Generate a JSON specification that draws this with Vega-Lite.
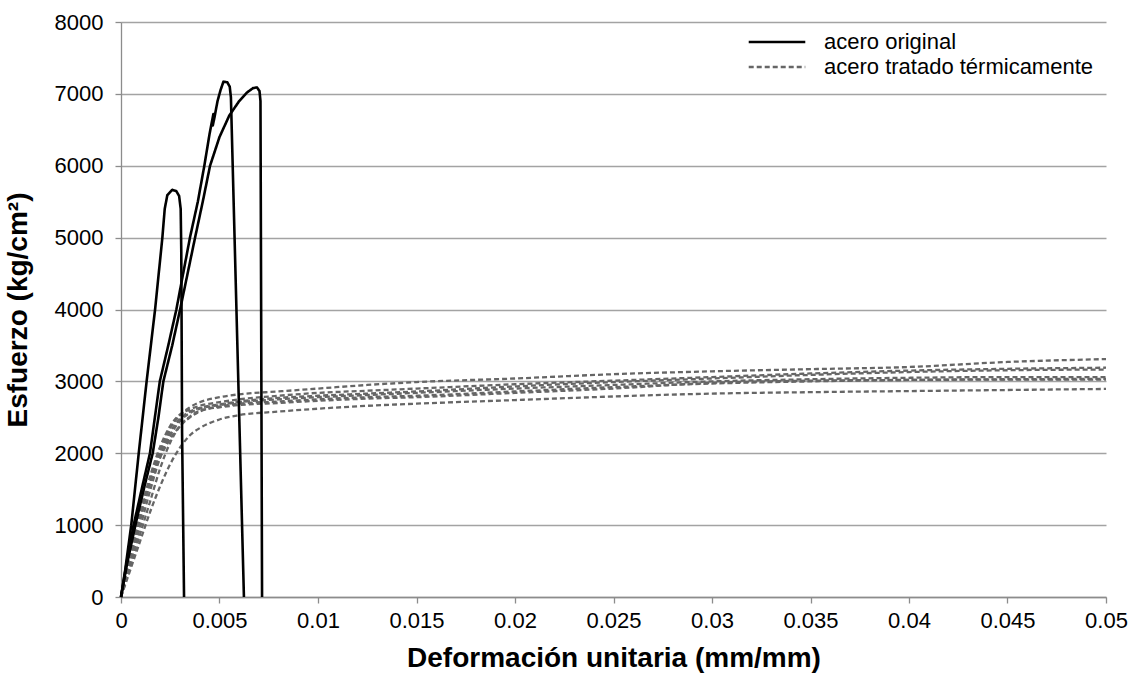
{
  "$schema": "https://vega.github.io/schema/vega-lite/v6.json",
  "width": 985,
  "height": 575,
  "autosize": {"type": "none"},
  "padding": {"left": 121, "top": 22, "right": 29, "bottom": 80},
  "background": "white",
  "config": {"view": {"stroke": null}, "font": "Liberation Sans"},
  "data": {"values": [
    {"p":"A","t":"acero original","i":0,"e":0,"s":0},
    {"p":"A","t":"acero original","i":1,"e":0.0002,"s":350},
    {"p":"A","t":"acero original","i":2,"e":0.00052,"s":1000},
    {"p":"A","t":"acero original","i":3,"e":0.0009,"s":2000},
    {"p":"A","t":"acero original","i":4,"e":0.0013,"s":3000},
    {"p":"A","t":"acero original","i":5,"e":0.00173,"s":4000},
    {"p":"A","t":"acero original","i":6,"e":0.0021,"s":5000},
    {"p":"A","t":"acero original","i":7,"e":0.00222,"s":5400},
    {"p":"A","t":"acero original","i":8,"e":0.00235,"s":5590},
    {"p":"A","t":"acero original","i":9,"e":0.0026,"s":5665},
    {"p":"A","t":"acero original","i":10,"e":0.0028,"s":5650},
    {"p":"A","t":"acero original","i":11,"e":0.00295,"s":5580},
    {"p":"A","t":"acero original","i":12,"e":0.00303,"s":5400},
    {"p":"A","t":"acero original","i":13,"e":0.00306,"s":4800},
    {"p":"A","t":"acero original","i":14,"e":0.0031,"s":2300},
    {"p":"A","t":"acero original","i":15,"e":0.0032,"s":0},
    {"p":"B","t":"acero original","i":0,"e":0,"s":0},
    {"p":"B","t":"acero original","i":1,"e":0.0003,"s":500},
    {"p":"B","t":"acero original","i":2,"e":0.00064,"s":1000},
    {"p":"B","t":"acero original","i":3,"e":0.00105,"s":1500},
    {"p":"B","t":"acero original","i":4,"e":0.00147,"s":2000},
    {"p":"B","t":"acero original","i":5,"e":0.00172,"s":2500},
    {"p":"B","t":"acero original","i":6,"e":0.00197,"s":3000},
    {"p":"B","t":"acero original","i":7,"e":0.0024,"s":3500},
    {"p":"B","t":"acero original","i":8,"e":0.00281,"s":4000},
    {"p":"B","t":"acero original","i":9,"e":0.0035,"s":5000},
    {"p":"B","t":"acero original","i":10,"e":0.0039,"s":5500},
    {"p":"B","t":"acero original","i":11,"e":0.00423,"s":6000},
    {"p":"B","t":"acero original","i":12,"e":0.0045,"s":6450},
    {"p":"B","t":"acero original","i":13,"e":0.00462,"s":6620},
    {"p":"B","t":"acero original","i":14,"e":0.00469,"s":6720},
    {"p":"B","t":"acero original","i":15,"e":0.00466,"s":6560},
    {"p":"B","t":"acero original","i":16,"e":0.00475,"s":6680},
    {"p":"B","t":"acero original","i":17,"e":0.0049,"s":6900},
    {"p":"B","t":"acero original","i":18,"e":0.00505,"s":7050},
    {"p":"B","t":"acero original","i":19,"e":0.0052,"s":7170},
    {"p":"B","t":"acero original","i":20,"e":0.0054,"s":7160},
    {"p":"B","t":"acero original","i":21,"e":0.00552,"s":7100},
    {"p":"B","t":"acero original","i":22,"e":0.00558,"s":6950},
    {"p":"B","t":"acero original","i":23,"e":0.00624,"s":0},
    {"p":"C","t":"acero original","i":0,"e":0,"s":0},
    {"p":"C","t":"acero original","i":1,"e":0.0003,"s":450},
    {"p":"C","t":"acero original","i":2,"e":0.00073,"s":1000},
    {"p":"C","t":"acero original","i":3,"e":0.0012,"s":1550},
    {"p":"C","t":"acero original","i":4,"e":0.00161,"s":2000},
    {"p":"C","t":"acero original","i":5,"e":0.0019,"s":2500},
    {"p":"C","t":"acero original","i":6,"e":0.00215,"s":3000},
    {"p":"C","t":"acero original","i":7,"e":0.0026,"s":3500},
    {"p":"C","t":"acero original","i":8,"e":0.003,"s":4000},
    {"p":"C","t":"acero original","i":9,"e":0.00338,"s":4500},
    {"p":"C","t":"acero original","i":10,"e":0.00376,"s":5000},
    {"p":"C","t":"acero original","i":11,"e":0.00415,"s":5500},
    {"p":"C","t":"acero original","i":12,"e":0.00452,"s":6000},
    {"p":"C","t":"acero original","i":13,"e":0.005,"s":6400},
    {"p":"C","t":"acero original","i":14,"e":0.0055,"s":6700},
    {"p":"C","t":"acero original","i":15,"e":0.006,"s":6900},
    {"p":"C","t":"acero original","i":16,"e":0.0064,"s":7020},
    {"p":"C","t":"acero original","i":17,"e":0.0067,"s":7080},
    {"p":"C","t":"acero original","i":18,"e":0.0069,"s":7090},
    {"p":"C","t":"acero original","i":19,"e":0.00703,"s":7040},
    {"p":"C","t":"acero original","i":20,"e":0.00708,"s":6900},
    {"p":"C","t":"acero original","i":21,"e":0.00716,"s":0},

    {"p":"D1","t":"acero tratado térmicamente","i":0,"e":0,"s":0},
    {"p":"D1","t":"acero tratado térmicamente","i":1,"e":0.0005,"s":600},
    {"p":"D1","t":"acero tratado térmicamente","i":2,"e":0.001,"s":1150},
    {"p":"D1","t":"acero tratado térmicamente","i":3,"e":0.0015,"s":1650},
    {"p":"D1","t":"acero tratado térmicamente","i":4,"e":0.002,"s":2050},
    {"p":"D1","t":"acero tratado térmicamente","i":5,"e":0.0025,"s":2350},
    {"p":"D1","t":"acero tratado térmicamente","i":6,"e":0.003,"s":2530},
    {"p":"D1","t":"acero tratado térmicamente","i":7,"e":0.0035,"s":2640},
    {"p":"D1","t":"acero tratado térmicamente","i":8,"e":0.004,"s":2710},
    {"p":"D1","t":"acero tratado térmicamente","i":9,"e":0.005,"s":2780},
    {"p":"D1","t":"acero tratado térmicamente","i":10,"e":0.006,"s":2820},
    {"p":"D1","t":"acero tratado térmicamente","i":11,"e":0.008,"s":2860},
    {"p":"D1","t":"acero tratado térmicamente","i":12,"e":0.01,"s":2900},
    {"p":"D1","t":"acero tratado térmicamente","i":13,"e":0.0125,"s":2950},
    {"p":"D1","t":"acero tratado térmicamente","i":14,"e":0.015,"s":2990},
    {"p":"D1","t":"acero tratado térmicamente","i":15,"e":0.02,"s":3040},
    {"p":"D1","t":"acero tratado térmicamente","i":16,"e":0.025,"s":3100},
    {"p":"D1","t":"acero tratado térmicamente","i":17,"e":0.03,"s":3140},
    {"p":"D1","t":"acero tratado térmicamente","i":18,"e":0.035,"s":3170},
    {"p":"D1","t":"acero tratado térmicamente","i":19,"e":0.04,"s":3200},
    {"p":"D1","t":"acero tratado térmicamente","i":20,"e":0.045,"s":3270},
    {"p":"D1","t":"acero tratado térmicamente","i":21,"e":0.05,"s":3310},

    {"p":"D2","t":"acero tratado térmicamente","i":0,"e":0,"s":0},
    {"p":"D2","t":"acero tratado térmicamente","i":1,"e":0.0005,"s":650},
    {"p":"D2","t":"acero tratado térmicamente","i":2,"e":0.001,"s":1200},
    {"p":"D2","t":"acero tratado térmicamente","i":3,"e":0.0015,"s":1700},
    {"p":"D2","t":"acero tratado térmicamente","i":4,"e":0.002,"s":2100},
    {"p":"D2","t":"acero tratado térmicamente","i":5,"e":0.0025,"s":2380},
    {"p":"D2","t":"acero tratado térmicamente","i":6,"e":0.003,"s":2540},
    {"p":"D2","t":"acero tratado térmicamente","i":7,"e":0.0035,"s":2610},
    {"p":"D2","t":"acero tratado térmicamente","i":8,"e":0.004,"s":2660},
    {"p":"D2","t":"acero tratado térmicamente","i":9,"e":0.005,"s":2710},
    {"p":"D2","t":"acero tratado térmicamente","i":10,"e":0.006,"s":2750},
    {"p":"D2","t":"acero tratado térmicamente","i":11,"e":0.008,"s":2800},
    {"p":"D2","t":"acero tratado térmicamente","i":12,"e":0.01,"s":2840},
    {"p":"D2","t":"acero tratado térmicamente","i":13,"e":0.0125,"s":2870},
    {"p":"D2","t":"acero tratado térmicamente","i":14,"e":0.015,"s":2900},
    {"p":"D2","t":"acero tratado térmicamente","i":15,"e":0.02,"s":2960},
    {"p":"D2","t":"acero tratado térmicamente","i":16,"e":0.025,"s":3010},
    {"p":"D2","t":"acero tratado térmicamente","i":17,"e":0.03,"s":3060},
    {"p":"D2","t":"acero tratado térmicamente","i":18,"e":0.035,"s":3110},
    {"p":"D2","t":"acero tratado térmicamente","i":19,"e":0.04,"s":3150},
    {"p":"D2","t":"acero tratado térmicamente","i":20,"e":0.045,"s":3175},
    {"p":"D2","t":"acero tratado térmicamente","i":21,"e":0.05,"s":3190},

    {"p":"D3","t":"acero tratado térmicamente","i":0,"e":0,"s":0},
    {"p":"D3","t":"acero tratado térmicamente","i":1,"e":0.0005,"s":550},
    {"p":"D3","t":"acero tratado térmicamente","i":2,"e":0.001,"s":1100},
    {"p":"D3","t":"acero tratado térmicamente","i":3,"e":0.0015,"s":1600},
    {"p":"D3","t":"acero tratado térmicamente","i":4,"e":0.002,"s":2000},
    {"p":"D3","t":"acero tratado térmicamente","i":5,"e":0.0025,"s":2300},
    {"p":"D3","t":"acero tratado térmicamente","i":6,"e":0.003,"s":2480},
    {"p":"D3","t":"acero tratado térmicamente","i":7,"e":0.0035,"s":2580},
    {"p":"D3","t":"acero tratado térmicamente","i":8,"e":0.004,"s":2630},
    {"p":"D3","t":"acero tratado térmicamente","i":9,"e":0.005,"s":2680},
    {"p":"D3","t":"acero tratado térmicamente","i":10,"e":0.006,"s":2720},
    {"p":"D3","t":"acero tratado térmicamente","i":11,"e":0.008,"s":2770},
    {"p":"D3","t":"acero tratado térmicamente","i":12,"e":0.01,"s":2800},
    {"p":"D3","t":"acero tratado térmicamente","i":13,"e":0.0125,"s":2830},
    {"p":"D3","t":"acero tratado térmicamente","i":14,"e":0.015,"s":2860},
    {"p":"D3","t":"acero tratado térmicamente","i":15,"e":0.02,"s":2930},
    {"p":"D3","t":"acero tratado térmicamente","i":16,"e":0.025,"s":2990},
    {"p":"D3","t":"acero tratado térmicamente","i":17,"e":0.03,"s":3040},
    {"p":"D3","t":"acero tratado térmicamente","i":18,"e":0.035,"s":3090},
    {"p":"D3","t":"acero tratado térmicamente","i":19,"e":0.04,"s":3130},
    {"p":"D3","t":"acero tratado térmicamente","i":20,"e":0.045,"s":3155},
    {"p":"D3","t":"acero tratado térmicamente","i":21,"e":0.05,"s":3165},

    {"p":"D4","t":"acero tratado térmicamente","i":0,"e":0,"s":0},
    {"p":"D4","t":"acero tratado térmicamente","i":1,"e":0.0005,"s":500},
    {"p":"D4","t":"acero tratado térmicamente","i":2,"e":0.001,"s":1000},
    {"p":"D4","t":"acero tratado térmicamente","i":3,"e":0.0015,"s":1500},
    {"p":"D4","t":"acero tratado térmicamente","i":4,"e":0.002,"s":1950},
    {"p":"D4","t":"acero tratado térmicamente","i":5,"e":0.0025,"s":2250},
    {"p":"D4","t":"acero tratado térmicamente","i":6,"e":0.003,"s":2450},
    {"p":"D4","t":"acero tratado térmicamente","i":7,"e":0.0035,"s":2560},
    {"p":"D4","t":"acero tratado térmicamente","i":8,"e":0.004,"s":2620},
    {"p":"D4","t":"acero tratado térmicamente","i":9,"e":0.005,"s":2670},
    {"p":"D4","t":"acero tratado térmicamente","i":10,"e":0.006,"s":2710},
    {"p":"D4","t":"acero tratado térmicamente","i":11,"e":0.008,"s":2750},
    {"p":"D4","t":"acero tratado térmicamente","i":12,"e":0.01,"s":2780},
    {"p":"D4","t":"acero tratado térmicamente","i":13,"e":0.0125,"s":2810},
    {"p":"D4","t":"acero tratado térmicamente","i":14,"e":0.015,"s":2840},
    {"p":"D4","t":"acero tratado térmicamente","i":15,"e":0.02,"s":2900},
    {"p":"D4","t":"acero tratado térmicamente","i":16,"e":0.025,"s":2950},
    {"p":"D4","t":"acero tratado térmicamente","i":17,"e":0.03,"s":3000},
    {"p":"D4","t":"acero tratado térmicamente","i":18,"e":0.035,"s":3030},
    {"p":"D4","t":"acero tratado térmicamente","i":19,"e":0.04,"s":3050},
    {"p":"D4","t":"acero tratado térmicamente","i":20,"e":0.045,"s":3060},
    {"p":"D4","t":"acero tratado térmicamente","i":21,"e":0.05,"s":3060},

    {"p":"D5","t":"acero tratado térmicamente","i":0,"e":0,"s":0},
    {"p":"D5","t":"acero tratado térmicamente","i":1,"e":0.0005,"s":600},
    {"p":"D5","t":"acero tratado térmicamente","i":2,"e":0.001,"s":1150},
    {"p":"D5","t":"acero tratado térmicamente","i":3,"e":0.0015,"s":1600},
    {"p":"D5","t":"acero tratado térmicamente","i":4,"e":0.002,"s":1950},
    {"p":"D5","t":"acero tratado térmicamente","i":5,"e":0.0025,"s":2200},
    {"p":"D5","t":"acero tratado térmicamente","i":6,"e":0.003,"s":2380},
    {"p":"D5","t":"acero tratado térmicamente","i":7,"e":0.0035,"s":2500},
    {"p":"D5","t":"acero tratado térmicamente","i":8,"e":0.004,"s":2580},
    {"p":"D5","t":"acero tratado térmicamente","i":9,"e":0.005,"s":2650},
    {"p":"D5","t":"acero tratado térmicamente","i":10,"e":0.006,"s":2690},
    {"p":"D5","t":"acero tratado térmicamente","i":11,"e":0.008,"s":2720},
    {"p":"D5","t":"acero tratado térmicamente","i":12,"e":0.01,"s":2750},
    {"p":"D5","t":"acero tratado térmicamente","i":13,"e":0.0125,"s":2780},
    {"p":"D5","t":"acero tratado térmicamente","i":14,"e":0.015,"s":2800},
    {"p":"D5","t":"acero tratado térmicamente","i":15,"e":0.02,"s":2860},
    {"p":"D5","t":"acero tratado térmicamente","i":16,"e":0.025,"s":2920},
    {"p":"D5","t":"acero tratado térmicamente","i":17,"e":0.03,"s":2970},
    {"p":"D5","t":"acero tratado térmicamente","i":18,"e":0.035,"s":3000},
    {"p":"D5","t":"acero tratado térmicamente","i":19,"e":0.04,"s":3020},
    {"p":"D5","t":"acero tratado térmicamente","i":20,"e":0.045,"s":3030},
    {"p":"D5","t":"acero tratado térmicamente","i":21,"e":0.05,"s":3035},

    {"p":"D6","t":"acero tratado térmicamente","i":0,"e":0,"s":0},
    {"p":"D6","t":"acero tratado térmicamente","i":1,"e":0.0005,"s":450},
    {"p":"D6","t":"acero tratado térmicamente","i":2,"e":0.001,"s":900},
    {"p":"D6","t":"acero tratado térmicamente","i":3,"e":0.0015,"s":1350},
    {"p":"D6","t":"acero tratado térmicamente","i":4,"e":0.002,"s":1800},
    {"p":"D6","t":"acero tratado térmicamente","i":5,"e":0.0025,"s":2150},
    {"p":"D6","t":"acero tratado térmicamente","i":6,"e":0.003,"s":2380},
    {"p":"D6","t":"acero tratado térmicamente","i":7,"e":0.0035,"s":2510},
    {"p":"D6","t":"acero tratado térmicamente","i":8,"e":0.004,"s":2590},
    {"p":"D6","t":"acero tratado térmicamente","i":9,"e":0.005,"s":2640},
    {"p":"D6","t":"acero tratado térmicamente","i":10,"e":0.006,"s":2670},
    {"p":"D6","t":"acero tratado térmicamente","i":11,"e":0.008,"s":2700},
    {"p":"D6","t":"acero tratado térmicamente","i":12,"e":0.01,"s":2730},
    {"p":"D6","t":"acero tratado térmicamente","i":13,"e":0.0125,"s":2760},
    {"p":"D6","t":"acero tratado térmicamente","i":14,"e":0.015,"s":2780},
    {"p":"D6","t":"acero tratado térmicamente","i":15,"e":0.02,"s":2840},
    {"p":"D6","t":"acero tratado térmicamente","i":16,"e":0.025,"s":2900},
    {"p":"D6","t":"acero tratado térmicamente","i":17,"e":0.03,"s":2980},
    {"p":"D6","t":"acero tratado térmicamente","i":18,"e":0.035,"s":3010},
    {"p":"D6","t":"acero tratado térmicamente","i":19,"e":0.04,"s":3020},
    {"p":"D6","t":"acero tratado térmicamente","i":20,"e":0.045,"s":3025},
    {"p":"D6","t":"acero tratado térmicamente","i":21,"e":0.05,"s":3025},

    {"p":"D7","t":"acero tratado térmicamente","i":0,"e":0,"s":0},
    {"p":"D7","t":"acero tratado térmicamente","i":1,"e":0.0005,"s":400},
    {"p":"D7","t":"acero tratado térmicamente","i":2,"e":0.001,"s":800},
    {"p":"D7","t":"acero tratado térmicamente","i":3,"e":0.0015,"s":1200},
    {"p":"D7","t":"acero tratado térmicamente","i":4,"e":0.002,"s":1550},
    {"p":"D7","t":"acero tratado térmicamente","i":5,"e":0.0025,"s":1850},
    {"p":"D7","t":"acero tratado térmicamente","i":6,"e":0.003,"s":2080},
    {"p":"D7","t":"acero tratado térmicamente","i":7,"e":0.0035,"s":2250},
    {"p":"D7","t":"acero tratado térmicamente","i":8,"e":0.004,"s":2350},
    {"p":"D7","t":"acero tratado térmicamente","i":9,"e":0.005,"s":2470},
    {"p":"D7","t":"acero tratado térmicamente","i":10,"e":0.006,"s":2530},
    {"p":"D7","t":"acero tratado térmicamente","i":11,"e":0.008,"s":2580},
    {"p":"D7","t":"acero tratado térmicamente","i":12,"e":0.01,"s":2620},
    {"p":"D7","t":"acero tratado térmicamente","i":13,"e":0.0125,"s":2660},
    {"p":"D7","t":"acero tratado térmicamente","i":14,"e":0.015,"s":2690},
    {"p":"D7","t":"acero tratado térmicamente","i":15,"e":0.02,"s":2740},
    {"p":"D7","t":"acero tratado térmicamente","i":16,"e":0.025,"s":2790},
    {"p":"D7","t":"acero tratado térmicamente","i":17,"e":0.03,"s":2830},
    {"p":"D7","t":"acero tratado térmicamente","i":18,"e":0.035,"s":2850},
    {"p":"D7","t":"acero tratado térmicamente","i":19,"e":0.04,"s":2865},
    {"p":"D7","t":"acero tratado térmicamente","i":20,"e":0.045,"s":2880},
    {"p":"D7","t":"acero tratado térmicamente","i":21,"e":0.05,"s":2895}
  ]},
  "encoding": {
    "x": {
      "field": "e", "type": "quantitative",
      "scale": {"domain": [0, 0.05], "nice": false},
      "axis": {
        "values": [0, 0.005, 0.01, 0.015, 0.02, 0.025, 0.03, 0.035, 0.04, 0.045, 0.05],
        "format": "~g",
        "grid": false,
        "title": "Deformación unitaria (mm/mm)",
        "titleFont": "Liberation Sans", "titleFontSize": 28, "titleFontWeight": "bold", "titleColor": "#000000",
        "titlePadding": 13,
        "labelFont": "Liberation Sans", "labelFontSize": 22, "labelColor": "#000000", "labelPadding": 7,
        "labelFlush": false, "labelOverlap": false,
        "tickSize": 6, "tickColor": "#8c8c8c", "domainColor": "#8c8c8c", "domainWidth": 1.3, "tickWidth": 1.3
      }
    },
    "y": {
      "field": "s", "type": "quantitative",
      "scale": {"domain": [0, 8000], "nice": false},
      "axis": {
        "values": [0, 1000, 2000, 3000, 4000, 5000, 6000, 7000, 8000],
        "format": "d",
        "grid": true, "gridColor": "#a3a3a3", "gridWidth": 1.3,
        "title": "Esfuerzo (kg/cm²)",
        "titleFont": "Liberation Sans", "titleFontSize": 28, "titleFontWeight": "bold", "titleColor": "#000000",
        "titlePadding": 22,
        "labelFont": "Liberation Sans", "labelFontSize": 22, "labelColor": "#000000", "labelPadding": 12,
        "labelFlush": false, "labelOverlap": false,
        "tickSize": 6, "tickColor": "#8c8c8c", "domainColor": "#8c8c8c", "domainWidth": 1.3, "tickWidth": 1.3
      }
    },
    "detail": {"field": "p", "type": "nominal"},
    "order": {"field": "i", "type": "quantitative"},
    "color": {
      "field": "t", "type": "nominal",
      "scale": {"domain": ["acero original", "acero tratado térmicamente"], "range": ["#000000", "#666666"]},
      "legend": {
        "title": null, "orient": "none", "legendX": 645, "legendY": 9,
        "labelFont": "Liberation Sans", "labelFontSize": 22, "labelColor": "#000000", "labelLimit": 0,
        "symbolType": "M-4,0H4", "symbolSize": 200, "labelOffset": 36, "rowPadding": 3, "padding": 0
      }
    },
    "strokeDash": {
      "field": "t", "type": "nominal",
      "scale": {"domain": ["acero original", "acero tratado térmicamente"], "range": [[1, 0], [5, 3]]},
      "legend": {
        "title": null, "orient": "none", "legendX": 645, "legendY": 9,
        "labelFont": "Liberation Sans", "labelFontSize": 22, "labelColor": "#000000", "labelLimit": 0,
        "symbolType": "M-4,0H4", "symbolSize": 200, "labelOffset": 36, "rowPadding": 3, "padding": 0
      }
    },
    "strokeWidth": {
      "field": "t", "type": "nominal",
      "scale": {"domain": ["acero original", "acero tratado térmicamente"], "range": [2.6, 2.3]},
      "legend": {
        "title": null, "orient": "none", "legendX": 645, "legendY": 9,
        "labelFont": "Liberation Sans", "labelFontSize": 22, "labelColor": "#000000", "labelLimit": 0,
        "symbolType": "M-4,0H4", "symbolSize": 200, "labelOffset": 36, "rowPadding": 3, "padding": 0
      }
    }
  },
  "layer": [
    {
      "transform": [{"filter": "datum.t === 'acero tratado térmicamente'"}],
      "mark": {"type": "line", "interpolate": "monotone", "strokeCap": "butt"}
    },
    {
      "transform": [{"filter": "datum.t === 'acero original'"}],
      "mark": {"type": "line", "interpolate": "linear", "strokeJoin": "round"}
    }
  ]
}
